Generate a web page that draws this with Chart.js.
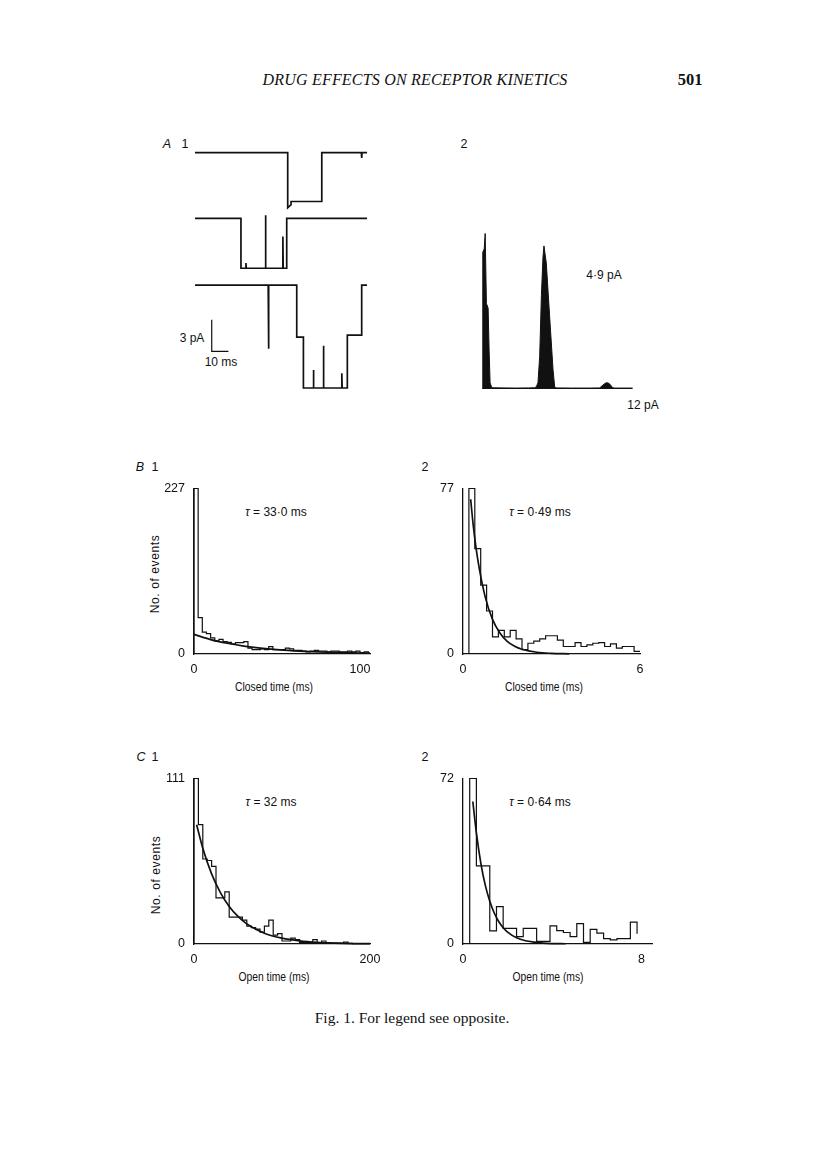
<!DOCTYPE html>
<html>
<head>
<meta charset="utf-8">
<title>Drug effects on receptor kinetics - Fig. 1</title>
<script src="https://cdn.jsdelivr.net/npm/chart.js@4.4.1/dist/chart.umd.min.js"></script>
<style>
  html, body { margin: 0; padding: 0; background: #fff; }
  body { width: 816px; height: 1158px; position: relative; overflow: hidden;
         font-family: "Liberation Sans", Arial, sans-serif; color: #111; }
  canvas { position: absolute; }
  .t { position: absolute; transform: translate(-50%, -50%); white-space: nowrap; line-height: 1; font-size: 12px; }
  .serif { font-family: "Liberation Serif", "Times New Roman", serif; }
  .head { font-size: 16px; font-style: italic; letter-spacing: 0.2px; }
  .xt { font-size: 12px; transform: translate(-50%, -50%) scaleX(0.86); }
  .yt { font-size: 12px; letter-spacing: 0.6px; transform: translate(-50%, -50%) rotate(-90deg); }
  .pl { font-size: 12.5px; }
</style>
</head>
<body>

<!-- page header / caption -->
<div class="t serif head" style="left:415px; top:80px;">DRUG EFFECTS ON RECEPTOR KINETICS</div>
<div class="t serif" style="left:690px; top:80px; font-size:16.5px; font-weight:bold;">501</div>
<div class="t serif" style="left:412px; top:1018px; font-size:15.5px;">Fig. 1. For legend see opposite.</div>

<!-- panel labels -->
<div class="t pl" style="left:167px; top:144px;"><i>A</i></div>
<div class="t pl" style="left:185px; top:144px;">1</div>
<div class="t pl" style="left:464px; top:144px;">2</div>
<div class="t pl" style="left:140px; top:467px;"><i>B</i></div>
<div class="t pl" style="left:155px; top:467px;">1</div>
<div class="t pl" style="left:425px; top:467px;">2</div>
<div class="t pl" style="left:141px; top:757px;"><i>C</i></div>
<div class="t pl" style="left:155px; top:757px;">1</div>
<div class="t pl" style="left:425px; top:757px;">2</div>

<!-- A annotations -->
<div class="t" style="left:192px; top:338px;">3 pA</div>
<div class="t" style="left:221px; top:362px;">10 ms</div>
<div class="t" style="left:604px; top:275px;">4·9 pA</div>
<div class="t" style="left:643px; top:405px;">12 pA</div>

<!-- fit labels -->
<div class="t" style="left:276px; top:512px;"><i>τ</i> = 33·0 ms</div>
<div class="t" style="left:540px; top:512px;"><i>τ</i> = 0·49 ms</div>
<div class="t" style="left:271px; top:802px;"><i>τ</i> = 32 ms</div>
<div class="t" style="left:540px; top:802px;"><i>τ</i> = 0·64 ms</div>

<!-- axis titles -->
<div class="t xt" style="left:274px; top:687px;">Closed time (ms)</div>
<div class="t xt" style="left:544px; top:687px;">Closed time (ms)</div>
<div class="t xt" style="left:274px; top:977px;">Open time (ms)</div>
<div class="t xt" style="left:548px; top:977px;">Open time (ms)</div>
<div class="t yt" style="left:155px; top:574px;">No. of events</div>
<div class="t yt" style="left:156px; top:875px;">No. of events</div>

<canvas id="traceChart" width="200" height="260" style="left:180px; top:140px;"></canvas>
<canvas id="ampChart"   width="151" height="163" style="left:482px; top:226px;"></canvas>
<canvas id="histB1"></canvas>
<canvas id="histB2"></canvas>
<canvas id="histC1"></canvas>
<canvas id="histC2"></canvas>

<script>
/* ================================================
   DATA
================================================ */

// A1 — single-channel current records (time ms, current pA)
const trace1T = [0, 55.5, 55.5, 57.5, 57.5, 75.9, 75.9, 99.6, 99.8, 100.0, 103];
const trace1I = [0, 0, -5.2, -4.9, -4.6, -4.6, 0, 0, -0.5, 0, 0];

const trace2T = [0, 27.5, 27.5, 30.3, 30.5, 30.7, 42.0, 42.2, 42.4, 52.4, 52.6, 52.8, 54.9, 54.9, 103];
const trace2I = [0, 0, -4.7, -4.7, -4.2, -4.7, -4.7, 0.3, -4.7, -4.7, -1.7, -4.7, -4.7, 0, 0];

const trace3T = [0, 43.8, 44.0, 44.2, 60.9, 60.9, 64.9, 64.9, 70.7, 70.9, 71.1, 76.7, 76.9, 77.1,
                 87.7, 87.9, 88.1, 91.2, 91.2, 99.8, 99.8, 103];
const trace3I = [0, 0, -6.0, 0, 0, -4.9, -4.9, -9.7, -9.7, -8.0, -9.7, -9.7, -5.7, -9.7,
                 -9.7, -8.3, -9.7, -9.7, -4.7, -4.7, 0, 0];

const scaleBarMs = 10;
const scaleBarPA = 3;

// A2 — amplitude histogram (pA, relative count)
const ampX = [-0.3, -0.25, -0.22, -0.12, -0.04, 0.02, 0.06, 0.2, 0.28, 0.36, 0.5,
              1.5, 2.5, 3.5, 4.0, 4.14, 4.27, 4.41, 4.55, 4.68, 4.76, 4.95, 5.22, 5.5, 5.63, 5.75,
              7.0, 8.5, 9.3, 9.5, 9.7, 9.85, 10.0, 10.15, 10.35, 10.5, 11.2, 12.0];
const ampY = [0, 0, 88, 90, 100, 100, 55, 52, 25, 4, 0.8,
              0.7, 0.6, 0.7, 0.8, 1.5, 4, 21, 60, 85, 92, 81, 47, 12.5, 1.7, 0.7,
              0.6, 0.6, 0.7, 2, 3.4, 4, 3.9, 3, 1, 0.6, 0.6, 0.6];

// B1 — closed times, 2.5 ms bins
const b1Start = 0, b1Width = 2.5;
const b1Counts = [227, 50, 30, 28, 22, 18, 20, 17, 16, 14,
                  15.5, 15.5, 17, 8, 6, 6, 7, 6, 10, 6,
                  6, 6, 8, 7, 5, 5, 4, 3, 4, 5,
                  4, 4, 3, 4, 4, 3, 3, 4, 3, 4,
                  2, 3];
const b1FitX = [0, 10, 20, 30, 40, 50, 60, 70, 80, 90, 100, 106];
const b1FitY = [27, 19.8, 14.7, 10.9, 8.0, 5.9, 4.4, 3.2, 2.4, 1.8, 1.3, 1.1];

// B2 — closed times, 0.2 ms bins
const b2Start = 0.2, b2Width = 0.2;
const b2Counts = [77, 49, 32, 20, 8, 11, 8, 11, 7, 2,
                  5, 6, 7, 8.5, 8.5, 6.5, 3.5, 3.5, 5.3, 3.5,
                  4.2, 5, 5.3, 3.5, 4.7, 2.7, 3.5, 3.5, 1.2];
const b2FitX = [0.26, 0.35, 0.5, 0.75, 1.0, 1.25, 1.5, 1.75, 2.0, 2.5, 3.0, 3.6];
const b2FitY = [72, 59.5, 44, 26.7, 16.1, 9.8, 5.9, 3.6, 2.2, 0.8, 0.3, 0.1];

// C1 — open times, 5 ms bins
const c1Start = 0, c1Width = 5;
const c1Counts = [111, 80, 57, 56, 52, 31, 31, 35, 18, 18,
                  18, 16, 12, 11, 10, 8, 12, 16, 6, 7,
                  2, 2, 4, 3, 1, 1, 1, 3, 1, 2,
                  1, 0.6, 0.6, 0.6, 1.3, 0.5, 0.3, 0.3, 0.3, 0.3];
const c1FitX = [3, 10, 20, 30, 40, 50, 60, 80, 100, 120, 140, 160, 180, 200];
const c1FitY = [80, 64.2, 47, 34.5, 25.2, 18.5, 13.5, 7.2, 3.9, 2.1, 1.1, 0.6, 0.3, 0.2];

// C2 — open times, 0.3 ms bins
const c2Start = 0.3, c2Width = 0.3;
const c2Counts = [72, 34, 34, 5.7, 16.3, 6.8, 6.8, 3.2, 6.8, 6.8,
                  1.1, 1.1, 7.9, 5.8, 5.0, 3.2, 8.9, 0.7, 6.4, 4.7,
                  2.3, 1.8, 2.3, 2.3, 9.5];
const c2Tail = 4.5;
const c2FitX = [0.44, 0.6, 0.8, 1.0, 1.2, 1.4, 1.6, 1.8, 2.0, 2.4, 2.8, 3.2, 3.6, 4.0, 4.6];
const c2FitY = [62, 48.3, 35.1, 25.5, 18.6, 13.5, 9.8, 7.1, 5.2, 2.7, 1.4, 0.8, 0.4, 0.2, 0.1];

/* ================================================
   HELPERS
================================================ */
const INK = '#111';
Chart.defaults.font.family = '"Liberation Sans", Arial, sans-serif';
Chart.defaults.font.size = 12;
Chart.defaults.color = INK;

const pairs = (xs, ys, shift = 0) => xs.map((x, i) => ({ x, y: ys[i] + shift }));

function stepPoints(start, width, counts, tail = 0) {
  const pts = [{ x: start, y: 0 }];
  counts.forEach((c, i) => {
    pts.push({ x: start + i * width, y: c });
    pts.push({ x: start + (i + 1) * width, y: c });
  });
  pts.push({ x: start + counts.length * width, y: tail });
  return pts;
}

const bareOptions = (xMin, xMax, yMin, yMax) => ({
  responsive: false,
  animation: false,
  events: [],
  layout: { padding: 0 },
  plugins: { legend: { display: false }, tooltip: { enabled: false } },
  elements: { point: { radius: 0 } },
  scales: {
    x: { type: 'linear', display: false, min: xMin, max: xMax },
    y: { type: 'linear', display: false, min: yMin, max: yMax },
  },
});

/* ================================================
   A1 — CURRENT TRACES
================================================ */
// vertical placement of the three records and the calibration bar (pA, chart units)
const traceBase = [0, -6.2, -12.5];
const barAnchor = { t: 10, i: -18.75 };

new Chart(document.getElementById('traceChart'), {
  type: 'line',
  data: {
    datasets: [
      { data: pairs(trace1T, trace1I, traceBase[0]) },
      { data: pairs(trace2T, trace2I, traceBase[1]) },
      { data: pairs(trace3T, trace3I, traceBase[2]) },
      { data: [
          { x: barAnchor.t, y: barAnchor.i + scaleBarPA },
          { x: barAnchor.t, y: barAnchor.i },
          { x: barAnchor.t + scaleBarMs, y: barAnchor.i },
        ], borderWidth: 1.2 },
    ].map(ds => ({ borderColor: INK, borderWidth: 1.7, tension: 0, ...ds })),
  },
  options: bareOptions(-9, 110.76, -23.33, 1.2),
});

/* ================================================
   A2 — AMPLITUDE HISTOGRAM
================================================ */
new Chart(document.getElementById('ampChart'), {
  type: 'line',
  data: {
    datasets: [{
      data: pairs(ampX, ampY),
      borderColor: INK,
      backgroundColor: INK,
      borderWidth: 1,
      fill: 'origin',
      tension: 0,
    }],
  },
  options: bareOptions(-0.3, 12.03, 0, 104.8),
});

/* ================================================
   B / C — DWELL-TIME HISTOGRAMS
================================================ */
const Y_AXIS_W = 48, X_AXIS_H = 34, PAD_TOP = 12, PAD_RIGHT = 24;

function buildHist(id, box, hist, fit, xMax, xTick, yMax) {
  const cv = document.getElementById(id);
  cv.width  = Y_AXIS_W + box.w + PAD_RIGHT;
  cv.height = PAD_TOP + box.h + X_AXIS_H;
  cv.style.left = (box.left - Y_AXIS_W) + 'px';
  cv.style.top  = (box.top - PAD_TOP) + 'px';

  return new Chart(cv, {
    type: 'line',
    data: {
      datasets: [
        { data: hist, borderColor: INK, borderWidth: 1.2, tension: 0, clip: false },
        { data: fit,  borderColor: INK, borderWidth: 1.7, cubicInterpolationMode: 'monotone', clip: false },
      ],
    },
    options: {
      responsive: false,
      animation: false,
      events: [],
      layout: { padding: { top: PAD_TOP, right: PAD_RIGHT, left: 0, bottom: 0 } },
      plugins: { legend: { display: false }, tooltip: { enabled: false } },
      elements: { point: { radius: 0 } },
      scales: {
        x: {
          type: 'linear', min: 0, max: xMax,
          afterBuildTicks: s => { s.ticks = [{ value: 0 }, { value: xTick }]; },
          afterFit: s => { s.height = X_AXIS_H; },
          grid: { display: false, drawTicks: false },
          border: { display: true, color: INK, width: 1.3 },
          ticks: { padding: 8, maxRotation: 0, autoSkip: false, font: { size: 12.5 } },
        },
        y: {
          type: 'linear', min: 0, max: yMax,
          afterBuildTicks: s => { s.ticks = [{ value: 0 }, { value: yMax }]; },
          afterFit: s => { s.width = Y_AXIS_W; },
          grid: { display: false, drawTicks: false },
          border: { display: true, color: INK, width: 1.3 },
          ticks: { padding: 9, autoSkip: false, font: { size: 12.5 } },
        },
      },
    },
  });
}

buildHist('histB1', { left: 194, top: 484, w: 176, h: 170 },
  stepPoints(b1Start, b1Width, b1Counts), pairs(b1FitX, b1FitY), 106, 100, 227);

buildHist('histB2', { left: 463, top: 484, w: 177, h: 170 },
  stepPoints(b2Start, b2Width, b2Counts), pairs(b2FitX, b2FitY), 6, 6, 77);

buildHist('histC1', { left: 194, top: 774, w: 176, h: 170 },
  stepPoints(c1Start, c1Width, c1Counts), pairs(c1FitX, c1FitY), 200, 200, 111);

buildHist('histC2', { left: 463, top: 774, w: 189, h: 170 },
  stepPoints(c2Start, c2Width, c2Counts, c2Tail), pairs(c2FitX, c2FitY), 8.47, 8, 72);
</script>
</body>
</html>
